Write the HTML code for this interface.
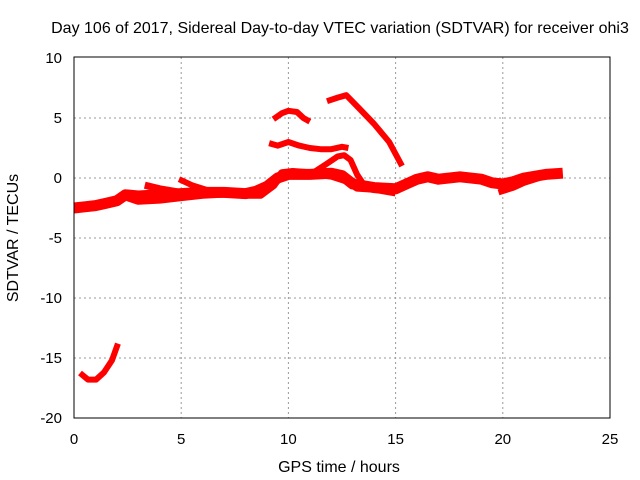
<!DOCTYPE html>
<html><head><meta charset="utf-8"><style>
body{margin:0;background:#fff}
svg{display:block;font-family:"Liberation Sans",sans-serif;font-size:15px}
</style></head><body>
<svg id="chart" width="640" height="480">
<rect width="640" height="480" fill="#fff"/>
<text x="340" y="33" text-anchor="middle" font-size="16">Day 106 of 2017, Sidereal Day-to-day VTEC variation (SDTVAR) for receiver ohi3</text>
<g id="grid"></g>
<g id="ticks"></g>
<g id="series"></g>
<rect x="74" y="57" width="536" height="361" fill="none" stroke="#000"/>
<text x="339" y="472" text-anchor="middle" font-size="16">GPS time / hours</text>
<text transform="translate(18,238) rotate(-90)" text-anchor="middle" font-size="16">SDTVAR / TECUs</text>
</svg>
<script>
const xTicks=[0,5,10,15,20,25];
const yTicks=[10,5,0,-5,-10,-15,-20];
const arcLow=[[0.28,-16.25],[0.65,-16.8],[1.03,-16.8],[1.4,-16.2],[1.77,-15.2],[2.05,-13.8]];
const mainBand=[[0,-2.5],[0.5,-2.4],[1,-2.3],[1.5,-2.1],[2,-1.9],[2.4,-1.4],[3,-1.5],[4,-1.4],[5,-1.3],[6,-1.2],[7,-1.2],[8,-1.3],[8.5,-1.1],[9,-0.7],[9.5,0],[10,0.3],[11,0.3],[12,0.4],[12.5,0.2],[13,-0.5],[14,-0.8],[15,-0.9],[15.5,-0.5],[16,-0.1],[16.5,0.1],[17,-0.1],[18,0.1],[19,-0.1],[19.5,-0.4],[20,-0.5],[20.5,-0.3],[21,0],[22,0.3],[22.8,0.4]];
const lowerBand=[[2.5,-1.6],[3,-1.9],[4,-1.8],[5,-1.6],[6,-1.4],[7,-1.3],[8,-1.4],[8.7,-1.4],[9.3,-0.6],[9.7,0.4],[10.2,0.5],[11,0.4],[12,0.2],[12.7,-0.2],[13.2,-0.8],[14,-0.9],[15,-1.2]];
const upperBand=[[3.3,-0.6],[4,-0.9],[5,-1.2]];
const upperBand2=[[4.9,-0.1],[5.5,-0.6],[6.2,-1.0]];
const arcB=[[9.3,4.9],[9.7,5.4],[10,5.6],[10.4,5.5],[10.7,5.0],[11,4.7]];
const arcC=[[9.1,2.9],[9.5,2.7],[10,3.0],[10.5,2.7],[11,2.5],[11.5,2.4],[12,2.4],[12.5,2.6],[12.8,2.5]];
const arcD=[[11.8,6.4],[12.3,6.7],[12.7,6.9],[13.3,5.8],[14,4.5],[14.7,3.0],[15.3,1.0]];
const arcE=[[11.2,0.5],[11.8,1.2],[12.3,1.8],[12.6,1.9],[12.9,1.5],[13.2,0.3],[13.5,-0.5]];
const lowBand2=[[19.8,-1.2],[20.5,-0.8],[21,-0.4],[21.7,0]];
const X=h=>74+h*21.44, Y=v=>178-v*12;
const NS="http://www.w3.org/2000/svg";
const grid=document.getElementById('grid'),ticks=document.getElementById('ticks'),ser=document.getElementById('series');
function mk(tag,attrs,parent){const e=document.createElementNS(NS,tag);for(const k in attrs)e.setAttribute(k,attrs[k]);parent.appendChild(e);return e;}
xTicks.forEach(t=>{
 if(t>0&&t<25){const l=mk('line',{x1:X(t),x2:X(t),y1:57,y2:418,stroke:'#999','stroke-dasharray':'2,3'},grid);
 
 }
 const tx=mk('text',{x:X(t),y:444,'text-anchor':'middle'},ticks);tx.textContent=t;
 
 
});
yTicks.forEach(t=>{
 if(t>-20&&t<10){const l=mk('line',{x1:74,x2:610,y1:Y(t),y2:Y(t),stroke:'#999','stroke-dasharray':'2,3'},grid);
 
 }
 const tx=mk('text',{x:62,y:Y(t)+5,'text-anchor':'end'},ticks);tx.textContent=t;
 
 
});
function draw(arr,w,name){
 const p=mk('polyline',{points:arr.map(d=>X(d[0])+','+Y(d[1])).join(' '),fill:'none',stroke:'#f00','stroke-width':w,'stroke-linejoin':'round','stroke-linecap':'butt'},ser);
 
 
}
draw(arcLow,6,'arc-low');
draw(mainBand,11,'main-band');
draw(lowerBand,8,'lower-band');
draw(upperBand,7,'upper-band');
draw(upperBand2,6,'upper-band-2');
draw(lowBand2,6,'low-band-2');
draw(arcB,6,'arc-b');
draw(arcC,6,'arc-c');
draw(arcD,6,'arc-d');
draw(arcE,6,'arc-e');
</script>
</body></html>
